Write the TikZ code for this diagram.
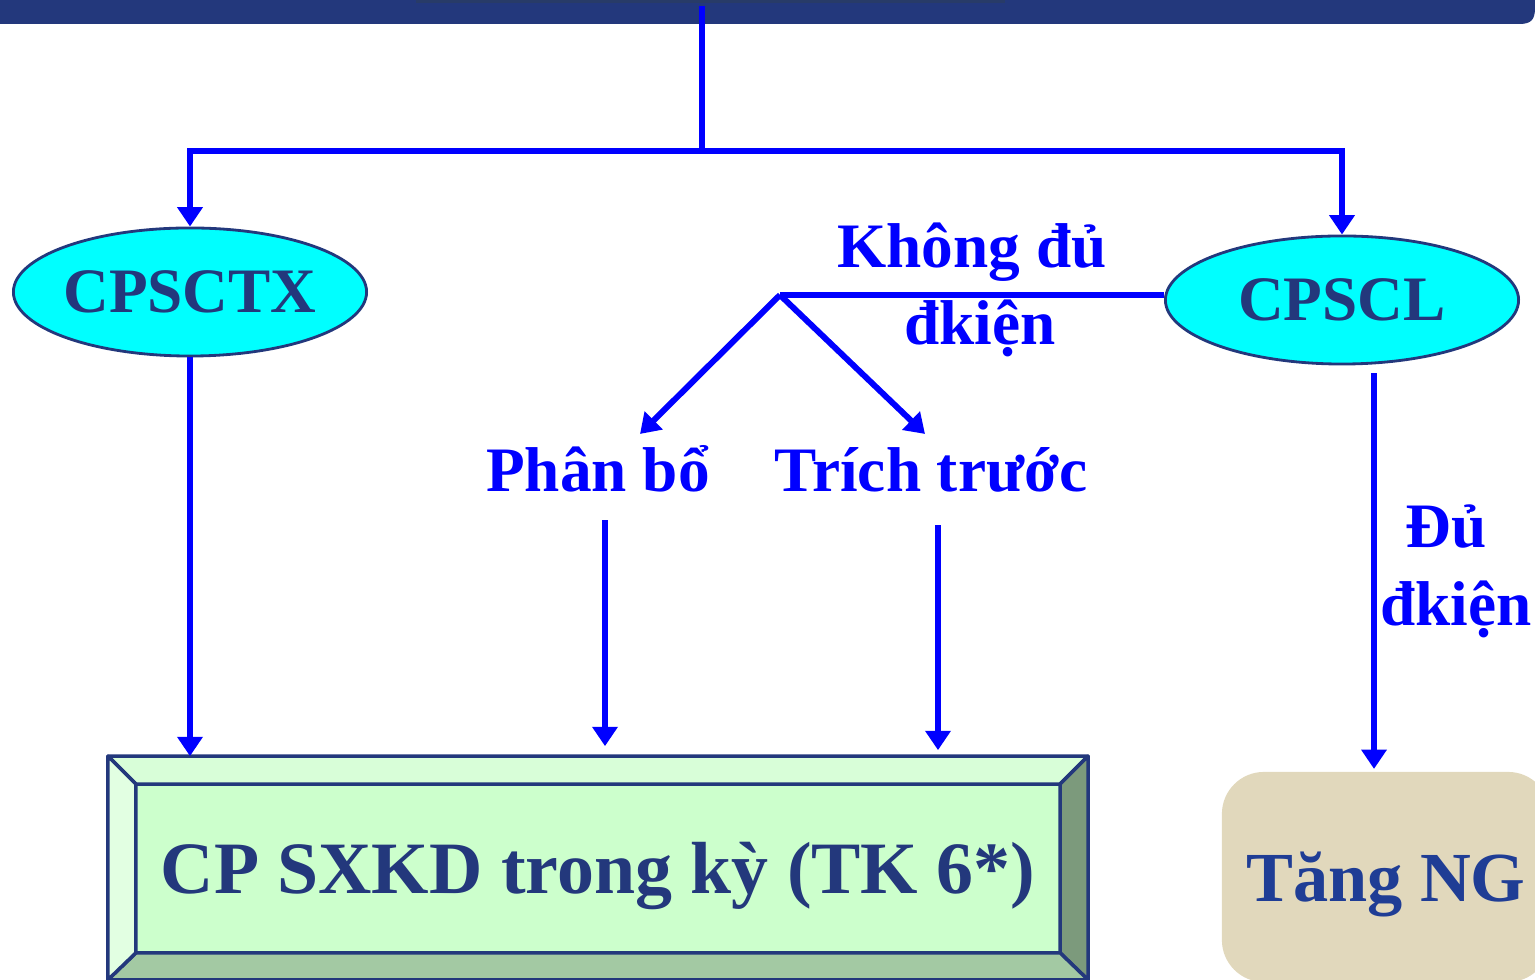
\documentclass[tikz,border=0pt]{standalone}
\usepackage{fontspec}
\setmainfont{Liberation Serif}
\usepackage{xcolor}
\usetikzlibrary{arrows.meta, shapes.geometric, positioning}
\definecolor{nv}{HTML}{23387C}
\definecolor{stripe}{HTML}{283B68}
\definecolor{bl}{HTML}{0000FF}
\definecolor{cy}{HTML}{00FFFF}
\definecolor{face}{HTML}{CCFFCC}
\definecolor{bvtop}{HTML}{D8FED8}
\definecolor{bvleft}{HTML}{E2FFE2}
\definecolor{bvright}{HTML}{7C9A7C}
\definecolor{bvbot}{HTML}{A3C9A3}
\definecolor{tn}{HTML}{E1D8BC}
\definecolor{ngtext}{HTML}{1F3D95}

\begin{document}
\begin{tikzpicture}[
      x = 0.01cm, y = -0.01cm, % one unit = one pixel, y down
      > = {Triangle[width = 7pt, length = 5.5pt]}, % arrow head style
      line width = 1.7pt, % line style
    ]

    \tikzstyle{cost}=[
      ellipse,
      draw = nv,
      line width = 0.8pt,
      fill = cy,
      text = nv,
      inner sep = 0pt,
      minimum width = 3.53cm,
      minimum height = 1.28cm,
      font = \fontsize{18}{22}\selectfont\bfseries
    ]
    \tikzstyle{lbl}=[
      text = bl,
      align = center,
      font = \fontsize{18}{22}\selectfont\bfseries
    ]
    \tikzstyle{flow}=[draw = bl, ->]
    \tikzstyle{bevel}=[draw = nv, line width = 1pt, line join = round]

    \useasboundingbox (0,0) rectangle (1535,980);

    % title bar
    \fill[nv] (0,0) -- (1535,0) -- (1535,8) .. controls (1535,20) and (1531,24) .. (1519,24) -- (0,24) -- cycle;
    \fill[stripe] (416,0) rectangle (1005,3);

    \coordinate (top) at (702,6);
    \coordinate (hub) at (702,151);
    \coordinate (fork) at (780,295);

    \node[cost] (ctx) at (190,292) {\makebox[0pt]{CPSCTX}};
    \node[cost] (cl) at (1342,300) {\makebox[0pt]{CPSCL}};
    \node[lbl, anchor = base] (pb) at (598,492) {Phân bổ};
    \node[lbl, anchor = base] (tt) at (931,492) {Trích trước};
    \node[rectangle, draw = nv, line width = 1pt, fill = face, text = nv,
          minimum width = 9.76cm, minimum height = 2.2cm, text depth = 0pt,
          font = \fontsize{21}{25}\selectfont\bfseries] (box) at (598,868) {CP SXKD trong kỳ (TK 6*)};
    \node[rectangle, rounded corners = 0.42cm, fill = tn, text = ngtext,
          minimum width = 3.28cm, minimum height = 2.1cm, text depth = 0pt,
          font = \fontsize{20}{24}\selectfont\bfseries] (ng) at (1386,877) {Tăng NG};

    % bevel of the big box
    \coordinate (inNW) at ([shift={(0.28cm,-0.28cm)}]box.north west);
    \coordinate (inNE) at ([shift={(-0.28cm,-0.28cm)}]box.north east);
    \coordinate (inSE) at ([shift={(-0.28cm,0.27cm)}]box.south east);
    \coordinate (inSW) at ([shift={(0.28cm,0.27cm)}]box.south west);
    \filldraw[bevel, fill = bvtop] (box.north west) -- (box.north east) -- (inNE) -- (inNW) -- cycle;
    \filldraw[bevel, fill = bvright] (box.north east) -- (box.south east) -- (inSE) -- (inNE) -- cycle;
    \filldraw[bevel, fill = bvbot] (box.south east) -- (box.south west) -- (inSW) -- (inSE) -- cycle;
    \filldraw[bevel, fill = bvleft] (box.south west) -- (box.north west) -- (inNW) -- (inSW) -- cycle;

    \coordinate (pbfoot) at ([shift={(0.07cm,-0.28cm)}]pb.base);
    \coordinate (ttfoot) at ([shift={(0.07cm,-0.33cm)}]tt.base);
    \coordinate (clfoot) at ([shift={(0.32cm,-0.08cm)}]cl.south);

    \draw[bl] (top) -- (hub);
    \draw[flow] (hub) -| (ctx);
    \draw[flow] (hub) -| (cl);
    \draw[bl] (cl.west |- fork) -- node[lbl, yshift = 0.05cm] (kdk) {Không đủ\\\hspace*{0.16cm}đkiện} (fork);
    \draw[flow] (fork) -- ([shift={(0.42cm,0.58cm)}]pb.base);
    \draw[flow] (fork) -- ([shift={(-0.06cm,0.58cm)}]tt.base);
    \draw[flow] (ctx) -- (ctx |- box.north);
    \draw[flow, shorten >= 0.1cm] (pbfoot) -- (pbfoot |- box.north);
    \draw[flow, shorten >= 0.06cm] (ttfoot) -- (ttfoot |- box.north);
    \draw[flow] (clfoot) -- node[lbl, right, inner sep = 1pt, pos = 0.5] (dk) {\hspace*{-0.2cm}Đủ\\đkiện} (clfoot |- ng.north);
  \end{tikzpicture}
\end{document}
